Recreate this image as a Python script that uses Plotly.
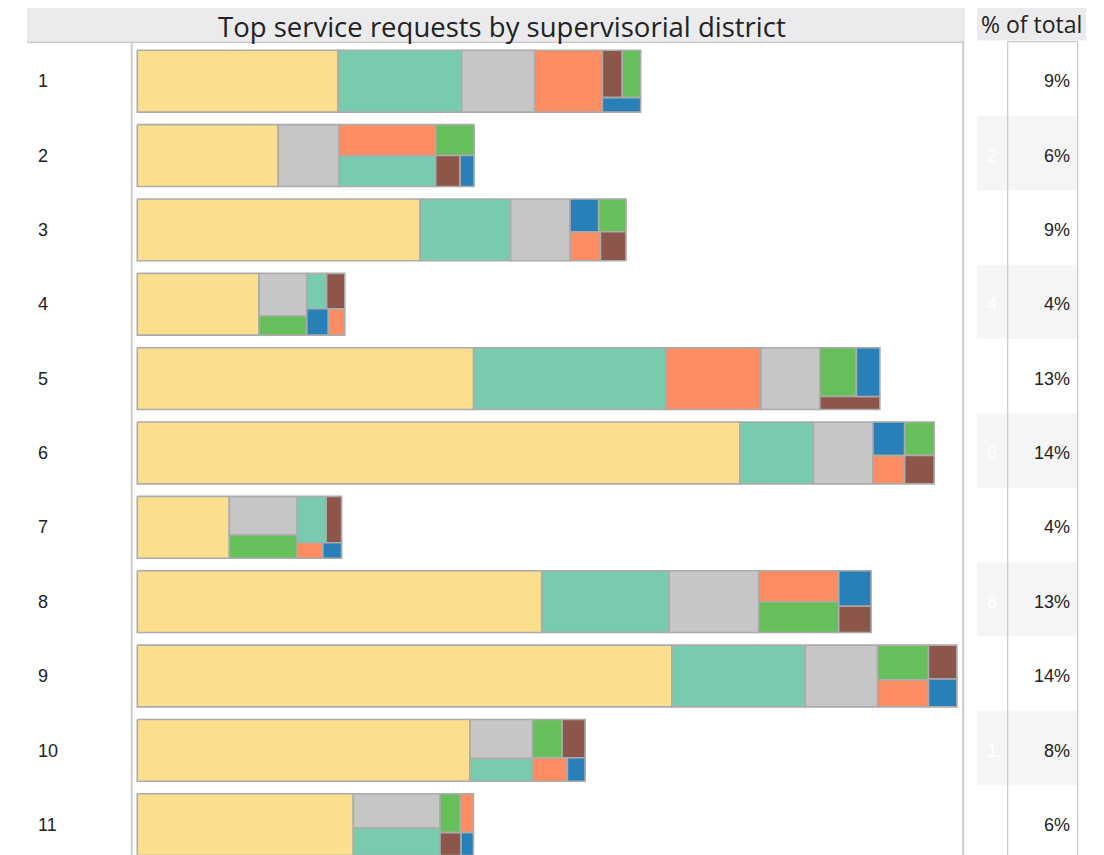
import plotly.graph_objects as go

# ---------------- data ----------------
DISTRICTS = ["1", "2", "3", "4", "5", "6", "7", "8", "9", "10", "11"]

CATEGORIES = [
    "Street and Sidewalk Cleaning",
    "Graffiti",
    "Encampments",
    "Abandoned Vehicle",
    "Tree Maintenance",
    "Damaged Property",
    "Sewer Issues",
]

# request counts per category, one value per district (1..11)
street_cleaning = [2007, 1410, 2827, 1217, 3363, 6026, 920, 4044, 5346, 3326, 2160]
graffiti        = [1237, 482, 907, 114, 1922, 736, 218, 1274, 1334, 232, 390]
encampments     = [730, 607, 593, 329, 590, 595, 424, 896, 723, 395, 477]
abandoned_veh   = [677, 485, 143, 71, 950, 146, 64, 402, 224, 132, 84]
tree_maint      = [143, 192, 145, 148, 289, 160, 254, 398, 285, 183, 126]
damaged_prop    = [150, 122, 120, 104, 126, 136, 116, 139, 156, 143, 78]
sewer_issues    = [90, 70, 152, 92, 186, 170, 47, 185, 128, 67, 46]

PCT_OF_TOTAL = [9, 6, 9, 4, 13, 14, 4, 13, 14, 8, 6]

SERIES = [street_cleaning, graffiti, encampments, abandoned_veh,
          tree_maint, damaged_prop, sewer_issues]

# ---------------- styles ----------------
COLORS = ["#FCDF8E", "#79CBB0", "#C6C6C6", "#FC8D62", "#67BF5C", "#8C564B", "#2980B9"]
CELL_LINE = "#ABABAB"
GRID = "#C8C8C8"
BAND = "#F5F5F5"
HEAD = "#EBEBEE"

SCREEN_W, SCREEN_H = 1104, 855
PAGE_MARGIN = 8                      # default body margin of the html page
FIG_W, FIG_H = SCREEN_W - PAGE_MARGIN, SCREEN_H - PAGE_MARGIN

ROW_PX = 74.35          # pixel height of one row band
BAND0_PX = 41.7         # top of first band (screen px)
BAR_OFFSET_PX = 8.6     # bar top inside band
BAR_H_PX = 61.8         # bar height
X0_PX = 137.3           # screen x of zero
COUNT_PER_PX = 10.0     # x scale
PHI = (1 + 5 ** 0.5) / 2


def fx(p):
    return (p - PAGE_MARGIN) / FIG_W


def fy(p):
    return 1 - (p - PAGE_MARGIN) / FIG_H


def squarify(items, x0, y0, x1, y1, ratio=PHI):
    """d3-style squarified treemap (golden ratio)."""
    out = []
    value = float(sum(v for _, v in items))
    n = len(items)
    i0 = i1 = 0
    while i0 < n:
        dx, dy = x1 - x0, y1 - y0
        sum_v = items[i1][1]
        i1 += 1
        min_v = max_v = sum_v
        alpha = max(dy / dx, dx / dy) / (value * ratio)
        beta = sum_v * sum_v * alpha
        min_ratio = max(max_v / beta, beta / min_v)
        while i1 < n:
            nv = items[i1][1]
            s = sum_v + nv
            mn, mx = min(min_v, nv), max(max_v, nv)
            beta = s * s * alpha
            new_ratio = max(mx / beta, beta / mn)
            if new_ratio > min_ratio:
                break
            sum_v, min_v, max_v, min_ratio = s, mn, mx, new_ratio
            i1 += 1
        row = items[i0:i1]
        if dx < dy:
            ny = y0 + dy * sum_v / value
            cx = x0
            for k, v in row:
                w = dx * v / sum_v
                out.append((k, cx, y0, cx + w, ny))
                cx += w
            y0 = ny
        else:
            nx = x0 + dx * sum_v / value
            cy = y0
            for k, v in row:
                h = dy * v / sum_v
                out.append((k, x0, cy, nx, cy + h))
                cy += h
            x0 = nx
        value -= sum_v
        i0 = i1
    return out


def px_to_y(py):
    return 0.5 + (py - BAND0_PX) / ROW_PX


xs = {c: [] for c in range(len(CATEGORIES))}
ys = {c: [] for c in range(len(CATEGORIES))}

for r, d in enumerate(DISTRICTS):
    items = sorted([(c, SERIES[c][r]) for c in range(len(CATEGORIES))],
                   key=lambda t: -t[1])
    total_px = sum(v for _, v in items) / COUNT_PER_PX
    bar_top = (r + 1) - 0.5 + BAR_OFFSET_PX / ROW_PX
    for c, a, b, e, f in squarify(items, 0.0, 0.0, total_px, BAR_H_PX):
        xa, xb = a * COUNT_PER_PX, e * COUNT_PER_PX
        ya, yb = bar_top + b / ROW_PX, bar_top + f / ROW_PX
        xs[c] += [xa, xb, xb, xa, xa, None]
        ys[c] += [ya, ya, yb, yb, ya, None]

fig = go.Figure()
for c, name in enumerate(CATEGORIES):
    fig.add_trace(go.Scatter(
        x=xs[c], y=ys[c], mode="lines", fill="toself",
        fillcolor=COLORS[c], line=dict(color=CELL_LINE, width=1.6),
        name=name, hoveron="fills", hoverinfo="name", showlegend=False,
    ))

shapes = []
# header bands
shapes.append(dict(type="rect", xref="paper", yref="paper",
                   x0=fx(27), x1=fx(965), y0=fy(41.5), y1=fy(8),
                   fillcolor=HEAD, line=dict(width=0), layer="below"))
shapes.append(dict(type="rect", xref="paper", yref="paper",
                   x0=fx(977), x1=fx(1086), y0=fy(40.5), y1=fy(8),
                   fillcolor=HEAD, line=dict(width=0), layer="below"))
# banded rows in % column
for r, d in enumerate(DISTRICTS):
    if (r + 1) % 2 == 0:
        shapes.append(dict(type="rect", xref="paper", yref="y",
                           x0=fx(977), x1=fx(1077.5), y0=r + 0.5, y1=r + 1.5,
                           fillcolor=BAND, line=dict(width=0), layer="below"))


def hline(x0, x1, y, width=1.5):
    shapes.append(dict(type="line", xref="paper", yref="paper",
                       x0=fx(x0), x1=fx(x1), y0=fy(y), y1=fy(y),
                       line=dict(color=GRID, width=width)))


def vline(x, y0, y1, width=1.5):
    shapes.append(dict(type="line", xref="paper", yref="paper",
                       x0=fx(x), x1=fx(x), y0=fy(y0), y1=fy(y1),
                       line=dict(color=GRID, width=width)))


hline(27, 963.5, 42.3, 1.5)
vline(131.7, 42, SCREEN_H + 5, 1.8)
vline(963.2, 41.5, SCREEN_H + 5, 1.8)
hline(1007.5, 1078, 41.7, 1.2)
vline(1007.7, 41.7, SCREEN_H + 5, 1.2)
vline(1077.7, 41.7, SCREEN_H + 5, 1.2)

annotations = [
    dict(text="Top service requests by supervisorial district", xref="paper", yref="paper",
         x=fx(502), y=fy(26.5), xanchor="center", yanchor="middle", showarrow=False,
         borderpad=0, font=dict(family="Open Sans", size=27.5, color="#222222")),
    dict(text="% of total", xref="paper", yref="paper",
         x=fx(1031), y=fy(24), xanchor="center", yanchor="middle", showarrow=False,
         borderpad=0, font=dict(family="Open Sans", size=23, color="#222222")),
]
label_dy = 2.5 / ROW_PX
for r, d in enumerate(DISTRICTS):
    y = (r + 1) + label_dy
    annotations.append(dict(text=d, xref="paper", yref="y", x=fx(36), y=y,
                            xanchor="left", yanchor="middle", showarrow=False,
                            font=dict(family="Arial, Liberation Sans", size=18, color="#222222")))
    annotations.append(dict(text=f"{PCT_OF_TOTAL[r]}%", xref="paper", yref="y", x=fx(1072), y=y,
                            xanchor="right", yanchor="middle", showarrow=False,
                            font=dict(family="Arial, Liberation Sans", size=18, color="#222222")))
    ghost = d if len(d) == 1 else d[0] + "."
    annotations.append(dict(text=ghost, xref="paper", yref="y", x=fx(985), y=y,
                            xanchor="left", yanchor="middle", showarrow=False,
                            font=dict(family="Arial, Liberation Sans", size=18, color="#FFFFFF")))

fig.update_layout(
    width=FIG_W, height=FIG_H, margin=dict(l=0, r=0, t=0, b=0),
    paper_bgcolor="white", plot_bgcolor="white",
    xaxis=dict(range=[(PAGE_MARGIN - X0_PX) * COUNT_PER_PX, (SCREEN_W - X0_PX) * COUNT_PER_PX],
               domain=[0, 1], visible=False, fixedrange=True),
    yaxis=dict(range=[px_to_y(SCREEN_H), px_to_y(PAGE_MARGIN)], domain=[0, 1],
               visible=False, fixedrange=True),
    shapes=shapes, annotations=annotations, showlegend=False,
    hovermode="closest",
)

fig.write_html("out.html")
